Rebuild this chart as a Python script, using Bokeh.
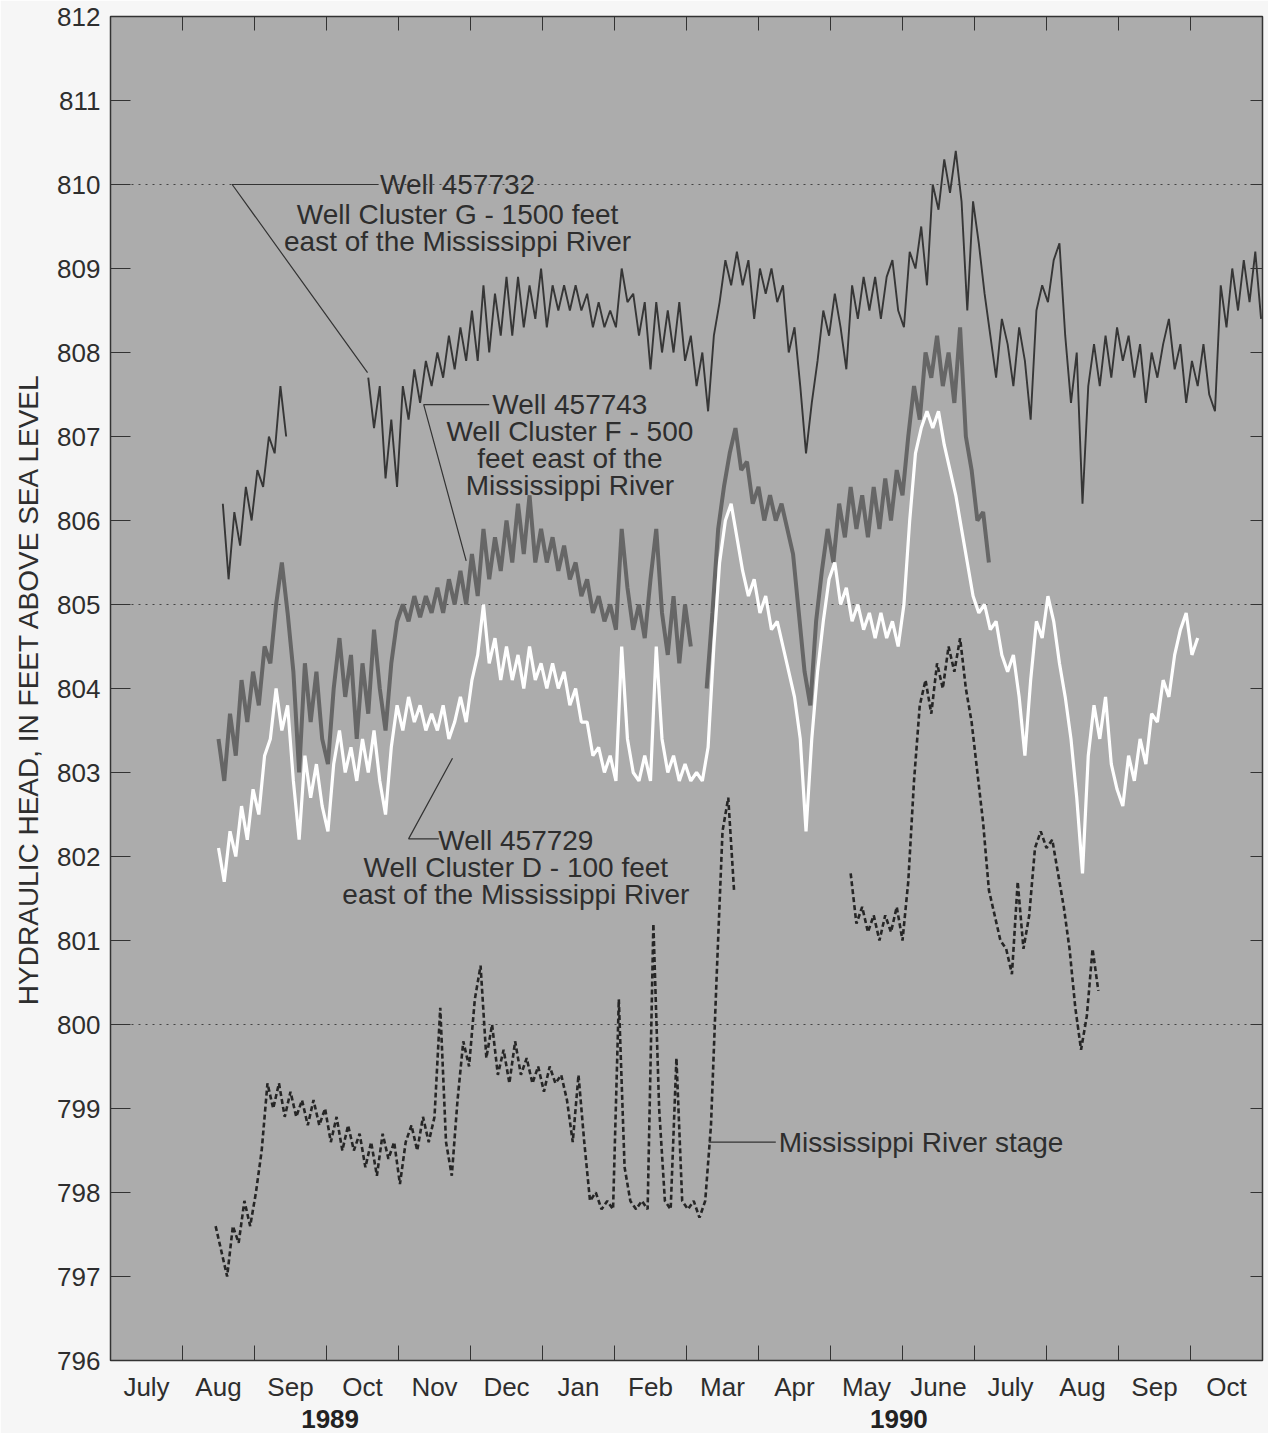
import numpy as np
from bokeh.plotting import figure
from bokeh.models import Range1d, FixedTicker, LinearAxis, CustomJSTickFormatter
from bokeh.core.properties import value
from bokeh.embed import file_html
from bokeh.resources import INLINE

# x unit: months after 1 July 1989 ; y unit: feet above sea level
MONTHS = ["July", "Aug", "Sep", "Oct", "Nov", "Dec", "Jan", "Feb", "Mar", "Apr",
          "May", "June", "July", "Aug", "Sep", "Oct"]
YEARS = ["1989", "1990"]
YEAR_POS = [3.05, 10.95]
Y_TICKS = list(range(796, 813))
MONTH_BOUNDS = list(range(1, 16))
STEP = 0.08  # months between readings

# Well 457732 (Cluster G)
G1_START = 1.56
G1 = [806.2, 805.3, 806.1, 805.7, 806.4, 806.0, 806.6, 806.4, 807.0, 806.8, 807.6, 807.0]
G2_START = 3.58
G2 = [807.7, 807.1, 807.6, 806.5, 807.2, 806.4, 807.6, 807.2, 807.8, 807.4,
      807.9, 807.6, 808.0, 807.7, 808.2, 807.8, 808.3, 807.9, 808.5, 807.9,
      808.8, 808.0, 808.7, 808.2, 808.9, 808.2, 808.9, 808.3, 808.8, 808.4,
      809.0, 808.3, 808.8, 808.5, 808.8, 808.5, 808.8, 808.5, 808.7, 808.3,
      808.6, 808.3, 808.5, 808.3, 809.0, 808.6, 808.7, 808.2, 808.6, 807.8,
      808.6, 808.0, 808.5, 808.0, 808.6, 807.9, 808.2, 807.6, 808.0, 807.3,
      808.2, 808.6, 809.1, 808.8, 809.2, 808.8, 809.1, 808.4, 809.0, 808.7,
      809.0, 808.6, 808.8, 808.0, 808.3, 807.6, 806.8, 807.4, 807.9, 808.5,
      808.2, 808.7, 808.3, 807.8, 808.8, 808.4, 808.9, 808.5, 808.9, 808.4,
      808.9, 809.1, 808.5, 808.3, 809.2, 809.0, 809.5, 808.8, 810.0, 809.7,
      810.3, 809.9, 810.4, 809.8, 808.5, 809.8, 809.3, 808.7, 808.2, 807.7,
      808.4, 808.1, 807.6, 808.3, 807.9, 807.2, 808.5, 808.8, 808.6, 809.1,
      809.3, 808.2, 807.4, 808.0, 806.2, 807.6, 808.1, 807.6, 808.2, 807.7,
      808.3, 807.9, 808.2, 807.7, 808.1, 807.4, 808.0, 807.7, 808.1, 808.4,
      807.8, 808.1, 807.4, 807.9, 807.6, 808.1, 807.5, 807.3, 808.8, 808.3,
      809.0, 808.5, 809.1, 808.6, 809.2, 808.4]

# Well 457743 (Cluster F)
F1_START = 1.50
F1 = [803.4, 802.9, 803.7, 803.2, 804.1, 803.6, 804.2, 803.8, 804.5, 804.3,
      805.0, 805.5, 804.9, 804.2, 803.0, 804.3, 803.6, 804.2, 803.4, 803.1,
      804.0, 804.6, 803.9, 804.4, 803.4, 804.3, 803.7, 804.7, 804.0, 803.5,
      804.3, 804.8, 805.0, 804.8, 805.1, 804.85, 805.1, 804.9, 805.2, 804.9,
      805.3, 805.0, 805.4, 805.0, 805.6, 805.1, 805.9, 805.3, 805.8, 805.4,
      806.0, 805.5, 806.2, 805.6, 806.3, 805.5, 805.9, 805.5, 805.8, 805.4,
      805.7, 805.3, 805.5, 805.1, 805.3, 804.9, 805.1, 804.8, 805.0, 804.7,
      805.9, 805.2, 804.7, 805.0, 804.6, 805.3, 805.9, 804.9, 804.4, 805.1,
      804.3, 805.0, 804.5]
F2_START = 8.28
F2 = [804.0, 804.9, 805.9, 806.4, 806.8, 807.1, 806.6, 806.7, 806.2, 806.4,
      806.0, 806.3, 806.0, 806.2, 805.9, 805.6, 804.9, 804.2, 803.8, 804.8,
      805.4, 805.9, 805.5, 806.2, 805.8, 806.4, 805.9, 806.3, 805.8, 806.4,
      805.9, 806.5, 806.0, 806.6, 806.3, 807.0, 807.6, 807.2, 808.0, 807.7,
      808.2, 807.6, 808.0, 807.4, 808.3, 807.0, 806.6, 806.0, 806.1, 805.5]

# Well 457729 (Cluster D)
D_START = 1.50
D = [802.1, 801.7, 802.3, 802.0, 802.6, 802.2, 802.8, 802.5, 803.2, 803.4,
     804.0, 803.5, 803.8, 802.9, 802.2, 803.2, 802.7, 803.1, 802.6, 802.3,
     803.1, 803.5, 803.0, 803.3, 802.9, 803.4, 803.0, 803.5, 802.9, 802.5,
     803.3, 803.8, 803.5, 803.9, 803.6, 803.8, 803.5, 803.7, 803.5, 803.8,
     803.4, 803.6, 803.9, 803.6, 804.1, 804.4, 805.0, 804.3, 804.6, 804.1,
     804.5, 804.1, 804.4, 804.0, 804.5, 804.1, 804.3, 804.0, 804.3, 804.0,
     804.2, 803.8, 804.0, 803.6, 803.6, 803.2, 803.3, 803.0, 803.2, 802.9,
     804.5, 803.4, 803.0, 802.9, 803.2, 802.9, 804.5, 803.4, 803.0, 803.2,
     802.9, 803.1, 802.9, 803.0, 802.9, 803.3, 804.5, 805.5, 806.0, 806.2,
     805.8, 805.4, 805.1, 805.3, 804.9, 805.1, 804.7, 804.8, 804.5, 804.2,
     803.9, 803.4, 802.3, 803.4, 804.2, 804.8, 805.3, 805.5, 805.0, 805.2,
     804.8, 805.0, 804.7, 804.9, 804.6, 804.9, 804.6, 804.8, 804.5, 805.0,
     806.0, 806.8, 807.1, 807.3, 807.1, 807.3, 806.9, 806.6, 806.3, 805.9,
     805.5, 805.1, 804.9, 805.0, 804.7, 804.8, 804.4, 804.2, 804.4, 803.9,
     803.2, 804.1, 804.8, 804.6, 805.1, 804.8, 804.3, 803.9, 803.4, 802.7,
     801.8, 803.2, 803.8, 803.4, 803.9, 803.1, 802.8, 802.6, 803.2, 802.9,
     803.4, 803.1, 803.7, 803.6, 804.1, 803.9, 804.4, 804.7, 804.9, 804.4,
     804.6]

# Mississippi River stage
R1_START = 1.46
R1 = [797.6, 797.3, 797.0, 797.6, 797.4, 797.9, 797.6, 798.0, 798.5, 799.3,
      799.0, 799.3, 798.9, 799.2, 798.9, 799.1, 798.8, 799.1, 798.8, 799.0,
      798.6, 798.9, 798.5, 798.8, 798.5, 798.7, 798.3, 798.6, 798.2, 798.7,
      798.4, 798.6, 798.1, 798.6, 798.8, 798.5, 798.9, 798.6, 798.9, 800.2,
      798.6, 798.2, 799.1, 799.8, 799.5, 800.3, 800.7, 799.6, 800.0, 799.4,
      799.7, 799.3, 799.8, 799.4, 799.6, 799.3, 799.5, 799.2, 799.5, 799.3,
      799.4, 799.1, 798.6, 799.4, 798.6, 797.9, 798.0, 797.8, 797.9, 797.8,
      800.3, 798.3, 797.9, 797.8, 797.9, 797.8, 801.2, 799.0, 797.9, 797.8,
      799.6, 797.9, 797.8, 797.9, 797.7, 797.9, 798.8, 800.6, 802.3, 802.7,
      801.6]
R2_START = 10.28
R2 = [801.8, 801.2, 801.4, 801.1, 801.3, 801.0, 801.3, 801.1, 801.4, 801.0,
      801.7, 802.9, 803.8, 804.1, 803.7, 804.3, 804.0, 804.5, 804.2, 804.6,
      804.0, 803.6, 803.0, 802.4, 801.6, 801.3, 801.0, 800.9, 800.6, 801.7,
      800.9, 801.3, 802.1, 802.3, 802.1, 802.2, 801.8, 801.4, 800.9, 800.2,
      799.7, 800.1, 800.9, 800.4]


def xs(start, vals):
    return start + STEP * np.arange(len(vals))


X0, X1, Y0, Y1 = 0, 16, 796, 812
FRAME_W, FRAME_H = 1152, 1344
FONT = value("Liberation Sans")
TXT = "#2e2e2e"

p = figure(width=1268, height=1433, output_backend="svg", toolbar_location=None,
           x_range=Range1d(X0, X1), y_range=Range1d(Y0, Y1),
           min_border_left=110, min_border_right=6, min_border_top=16, min_border_bottom=73)
p.background_fill_color = "#acacac"
p.border_fill_color = "#f6f6f6"
p.outline_line_color = "#333333"
p.outline_line_width = 1.5

p.xgrid.visible = False
p.ygrid.ticker = FixedTicker(ticks=[800, 805, 810])
p.ygrid.grid_line_color = "#444444"
p.ygrid.grid_line_dash = "2 5"
p.ygrid.grid_line_width = 1.2

# bottom month axis
xa = p.xaxis[0]
xa.ticker = FixedTicker(ticks=[i + 0.5 for i in range(16)], minor_ticks=MONTH_BOUNDS)
xa.formatter = CustomJSTickFormatter(args=dict(names=MONTHS),
                                     code="return names[Math.floor(tick)] || '';")
xa.major_tick_in = 0
xa.major_tick_out = 0
xa.minor_tick_in = 15
xa.minor_tick_out = 0
xa.minor_tick_line_color = "#333333"
xa.axis_line_color = None
xa.major_label_text_font = "Liberation Sans"
xa.major_label_text_font_size = "26px"
xa.major_label_text_color = TXT
xa.major_label_standoff = 11

ya = p.yaxis[0]
ya.ticker = FixedTicker(ticks=Y_TICKS)
ya.major_tick_in = 20
ya.major_tick_out = 0
ya.minor_tick_line_color = None
ya.axis_line_color = None
ya.major_tick_line_color = "#333333"
ya.major_label_text_font = "Liberation Sans"
ya.major_label_text_font_size = "26px"
ya.major_label_text_color = TXT
ya.major_label_standoff = 10
ya.axis_label = "HYDRAULIC HEAD, IN FEET ABOVE SEA LEVEL"
ya.axis_label_text_font = "Liberation Sans"
ya.axis_label_text_font_size = "28px"
ya.axis_label_text_font_style = "normal"
ya.axis_label_text_color = TXT
ya.axis_label_standoff = 10

# year labels
yr = LinearAxis(ticker=FixedTicker(ticks=YEAR_POS),
                formatter=CustomJSTickFormatter(args=dict(names=YEARS),
                                                code="return tick < 7 ? names[0] : names[1];"))
yr.major_tick_in = 0
yr.major_tick_out = 0
yr.minor_tick_line_color = None
yr.axis_line_color = None
yr.major_label_text_font = "Liberation Sans"
yr.major_label_text_font_size = "26px"
yr.major_label_text_font_style = "bold"
yr.major_label_text_color = "#222222"
yr.major_label_standoff = 5
p.add_layout(yr, "below")

# inward ticks on the top and right frame edges
tick_y = 14 * (Y1 - Y0) / FRAME_H
tick_x = 12 * (X1 - X0) / FRAME_W
p.segment(x0=MONTH_BOUNDS, x1=MONTH_BOUNDS, y0=[Y1] * len(MONTH_BOUNDS),
          y1=[Y1 - tick_y] * len(MONTH_BOUNDS), line_color="#333333", line_width=1)
p.segment(x0=[X1] * len(Y_TICKS), x1=[X1 - tick_x] * len(Y_TICKS), y0=Y_TICKS, y1=Y_TICKS,
          line_color="#333333", line_width=1)

# series
p.line(xs(F1_START, F1), F1, line_color="#666666", line_width=4)
p.line(xs(F2_START, F2), F2, line_color="#666666", line_width=4)
p.line(xs(D_START, D), D, line_color="#ffffff", line_width=3.2)
p.line(xs(G1_START, G1), G1, line_color="#363636", line_width=1.9)
p.line(xs(G2_START, G2), G2, line_color="#363636", line_width=1.9)
p.line(xs(R1_START, R1), R1, line_color="#262626", line_width=2.6, line_dash="5 3")
p.line(xs(R2_START, R2), R2, line_color="#262626", line_width=2.6, line_dash="5 3")

# annotations: leader lines
LEAD = dict(line_color="#333333", line_width=1.2)
p.line([3.72, 1.69, 3.57], [810.0, 810.0, 807.76], **LEAD)
p.line([5.26, 4.35, 4.94], [807.38, 807.38, 805.52], **LEAD)
p.line([4.56, 4.14, 4.75], [802.21, 802.21, 803.17], **LEAD)
p.line([8.31, 9.24], [798.6, 798.6], **LEAD)

ANN = dict(text_font=FONT, text_font_size=value("28px"), text_color=TXT,
           text_baseline="middle")
p.text(x=[4.82, 4.82, 4.82], y=[810.0, 809.64, 809.32],
       text=["Well 457732", "Well Cluster G - 1500 feet", "east of the Mississippi River"],
       text_align="center", **ANN)
p.text(x=[6.38, 6.38, 6.38, 6.38], y=[807.38, 807.06, 806.74, 806.42],
       text=["Well 457743", "Well Cluster F - 500", "feet east of the", "Mississippi River"],
       text_align="center", **ANN)
p.text(x=[5.63, 5.63, 5.63], y=[802.19, 801.87, 801.55],
       text=["Well 457729", "Well Cluster D - 100 feet", "east of the Mississippi River"],
       text_align="center", **ANN)
p.text(x=[9.28], y=[798.6], text=["Mississippi River stage"], text_align="left", **ANN)

open("out.html", "w").write(file_html(p, INLINE))
